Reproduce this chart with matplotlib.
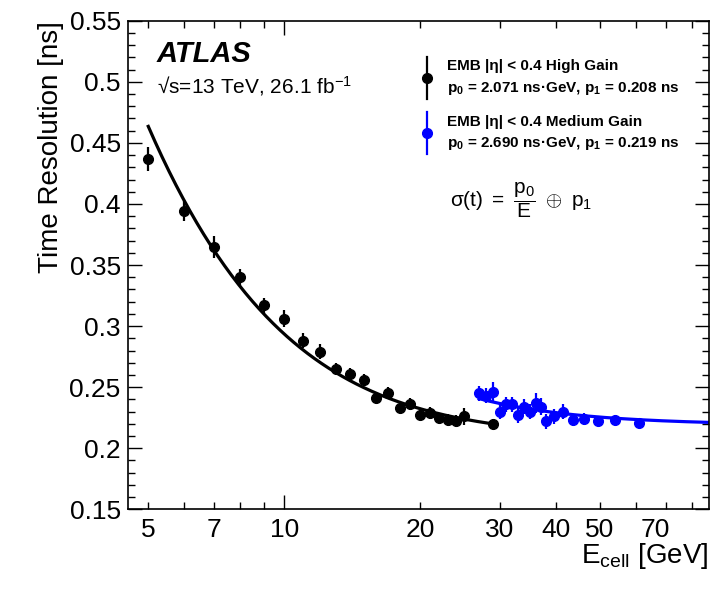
import numpy as np
import matplotlib
matplotlib.use('Agg')
import matplotlib.pyplot as plt
import matplotlib.transforms as mtransforms
from matplotlib.lines import Line2D
from matplotlib.ticker import FixedLocator, FixedFormatter, NullFormatter

plt.rcParams['font.family'] = ['Liberation Sans', 'DejaVu Sans']
plt.rcParams['mathtext.fontset'] = 'custom'
plt.rcParams['mathtext.rm'] = 'Liberation Sans'
plt.rcParams['mathtext.it'] = 'Liberation Sans:italic'
plt.rcParams['mathtext.bf'] = 'Liberation Sans:bold'

# high gain points (black)
hg_e = [5, 6, 7, 8, 9, 10, 11, 12, 13, 14, 15, 16, 17, 18, 19, 20, 21, 22, 23, 24, 25, 29]
hg_t = [0.437, 0.394, 0.365, 0.340, 0.317, 0.306, 0.288, 0.279, 0.265, 0.261, 0.256,
        0.241, 0.245, 0.233, 0.236, 0.227, 0.229, 0.225, 0.223, 0.222, 0.226, 0.220]
hg_err = [0.010, 0.008, 0.009, 0.007, 0.006, 0.007, 0.006, 0.006, 0.005, 0.005, 0.005,
          0.004, 0.005, 0.004, 0.005, 0.004, 0.005, 0.004, 0.005, 0.005, 0.007, 0.004]

# medium gain points (blue)
mg_e = [27, 28, 29, 30, 31, 32, 33, 34, 35, 36, 37, 38, 39.5, 41.5, 43.5, 46, 49.5, 54, 61]
mg_t = [0.245, 0.243, 0.246, 0.230, 0.236, 0.236, 0.227, 0.234, 0.230, 0.237, 0.234,
        0.222, 0.226, 0.230, 0.223, 0.224, 0.222, 0.223, 0.221]
mg_err = [0.006, 0.006, 0.008, 0.006, 0.006, 0.006, 0.006, 0.006, 0.006, 0.008, 0.007,
          0.006, 0.006, 0.006, 0.005, 0.005, 0.004, 0.004, 0.004]

# fit parameters
hg_p0, hg_p1 = 2.071, 0.208
mg_p0, mg_p1 = 2.690, 0.219
hg_range = (5, 29)
mg_range = (27, 87)

xticks = [5, 7, 10, 20, 30, 40, 50, 70]
xminor = [5, 6, 7, 8, 9, 20, 30, 40, 50, 60, 70, 80]
yticks = [0.15, 0.2, 0.25, 0.3, 0.35, 0.4, 0.45, 0.5, 0.55]
ylabels = ['0.15', '0.2', '0.25', '0.3', '0.35', '0.4', '0.45', '0.5', '0.55']

fig = plt.figure(figsize=(7.25, 5.95), dpi=100)
ax = fig.add_axes([0.176, 0.144, 0.8014, 0.8212])

def fitfunc(e, p0, p1):
    return np.sqrt((p0 / e) ** 2 + p1 ** 2)

ee = np.geomspace(*hg_range, 200)
ax.plot(ee, fitfunc(ee, hg_p0, hg_p1), color='black', lw=2.3)
ee = np.geomspace(*mg_range, 200)
ax.plot(ee, fitfunc(ee, mg_p0, mg_p1), color='blue', lw=2.3)

ax.errorbar(hg_e, hg_t, yerr=hg_err, fmt='o', color='black', ms=7, elinewidth=1.6, capsize=0)
ax.errorbar(mg_e, mg_t, yerr=mg_err, fmt='o', color='blue', ms=7, elinewidth=1.6, capsize=0)

ax.set_xscale('log')
ax.set_xlim(4.5, 87)
ax.set_ylim(0.15, 0.55)

ax.xaxis.set_major_locator(FixedLocator([10]))
ax.xaxis.set_major_formatter(NullFormatter())
ax.xaxis.set_minor_locator(FixedLocator(xminor))
ax.xaxis.set_minor_formatter(NullFormatter())
for x in xticks:
    # the 70 label sits a bit left of its tick in the original
    dx = -8 / 72 if x == 70 else 0
    tr = ax.get_xaxis_transform() + mtransforms.ScaledTranslation(dx, 0, fig.dpi_scale_trans)
    ax.text(x, -0.018, str(x), transform=tr, ha='center', va='top', fontsize=19)

ax.yaxis.set_major_locator(FixedLocator(yticks))
ax.yaxis.set_major_formatter(FixedFormatter(ylabels))
ax.yaxis.set_minor_locator(FixedLocator(np.arange(0.15, 0.551, 0.01)))

ax.tick_params(which='both', direction='in', top=True, right=True, labelsize=19, width=1)
ax.tick_params(which='major', length=10, pad=5)
ax.tick_params(which='minor', length=5)
for s in ax.spines.values():
    s.set_linewidth(1.2)

ax.set_ylabel('Time Resolution [ns]', fontsize=20, loc='top')
ax.set_xlabel(r'E$_{\mathrm{cell}}$ [GeV]', fontsize=20, ha='right')
ax.xaxis.set_label_coords(1.0, -0.1099)
ax.xaxis.label.set_va('baseline')

ax.text(0.05, 0.9156, 'ATLAS', transform=ax.transAxes, fontsize=21, fontweight='bold',
        fontstyle='italic', va='baseline')
ax.text(0.05, 0.852, r'√s=13 TeV, 26.1 fb$^{-1}$', transform=ax.transAxes, fontsize=15, va='baseline')

# legend
leg = [('black', 0.8821, 'EMB |η| < 0.4 High Gain',
        r'$\mathbf{p}_{\mathbf{0}}$ = 2.071 ns·GeV, $\mathbf{p}_{\mathbf{1}}$ = 0.208 ns', 0.8989, 0.8547),
       ('blue', 0.7695, 'EMB |η| < 0.4 Medium Gain',
        r'$\mathbf{p}_{\mathbf{0}}$ = 2.690 ns·GeV, $\mathbf{p}_{\mathbf{1}}$ = 0.219 ns', 0.7845, 0.7409)]
for col, ym, l1, l2, y1, y2 in leg:
    ax.add_line(Line2D([0.5146, 0.5146], [ym - 0.043, ym + 0.043], color=col, lw=1.6,
                       transform=ax.transAxes))
    ax.add_line(Line2D([0.5146], [ym], marker='o', ms=7, color=col, transform=ax.transAxes))
    ax.text(0.549, y1, l1, transform=ax.transAxes, fontsize=11, fontweight='bold', va='baseline')
    ax.text(0.549, y2, l2, transform=ax.transAxes, fontsize=11, fontweight='bold', va='baseline')

ax.text(0.5547, 0.6181, r'$\mathrm{\sigma(t)\ =\ }\dfrac{\mathrm{p_{0}}}{\mathrm{E}}\ \oplus\ \mathrm{p_{1}}$',
        transform=ax.transAxes, fontsize=15, va='baseline')

fig.savefig('out.png', dpi=100)
